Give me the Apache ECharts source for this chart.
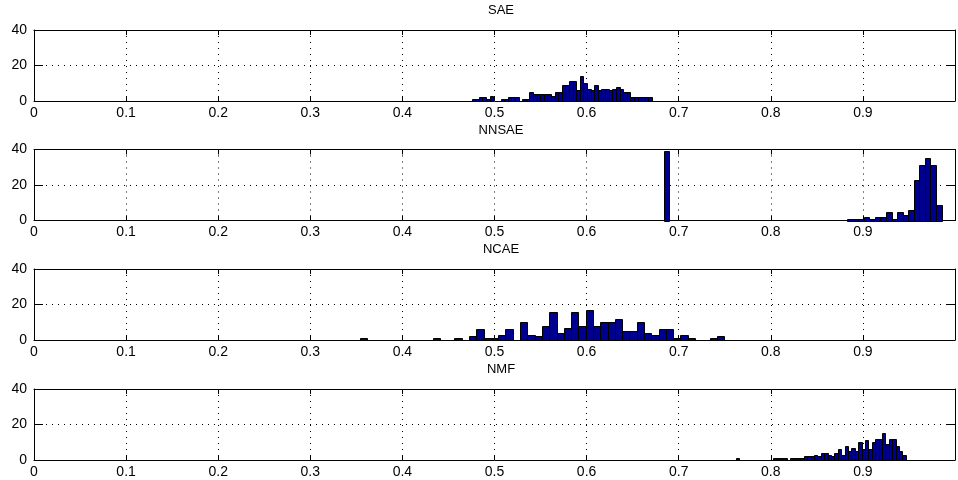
<!DOCTYPE html>
<html><head><meta charset="utf-8">
<script src="https://cdn.jsdelivr.net/npm/echarts@6/dist/echarts.min.js"></script>
<style>html,body{margin:0;padding:0;background:#fff}#c{width:958px;height:480px}</style>
</head><body><div id="c"></div>
<script>
const titles = ['SAE', 'NNSAE', 'NCAE', 'NMF'];
const xTickInterval = 0.1;
const yTicks = [0, 20, 40];
// histogram ranges [first bin left edge, last bin right edge] and counts (50 bins each)
const saeRange = [0.4752, 0.6710];
const saeCounts = [1,1,2,2,1,3,0,0,1,1, 2,2,2,0,1,1,5,4,4,4, 4,4,3,5,5,9,9,11,11,6, 14,10,7,6,9,6,7,7,6,7, 8,7,5,5,2,2,2,2,2,2];
const nnsaeRange = [0.6836, 0.9854];
const nnsaeCounts = [39,0,0,0,0,0,0,0,0,0, 0,0,0,0,0,0,0,0,0,0, 0,0,0,0,0,0,0,0,0,0, 0,0,0,1,1,1,2,1,2,2, 5,1,5,3,6,23,31,35,31,9];
const ncaeRange = [0.3536, 0.7494];
const ncaeCounts = [1,0,0,0,0,0,0,0,0,0, 1,0,0,1,0,2,6,1,1,3, 6,0,10,3,2,8,16,4,7,16, 8,17,8,10,10,12,5,5,10,4, 3,6,6,1,3,1,0,0,1,2];
const nmfRange = [0.7619, 0.9465];
const nmfCounts = [1,0,0,0,0,0,0,0,0,0, 0,1,1,1,1,0,1,1,1,1, 2,2,2,3,2,4,4,3,2,4, 6,3,8,5,7,5,10,6,11,6, 10,12,12,15,9,12,12,8,5,3];

const panels = [
  {range: saeRange, counts: saeCounts},
  {range: nnsaeRange, counts: nnsaeCounts},
  {range: ncaeRange, counts: ncaeCounts},
  {range: nmfRange, counts: nmfCounts}
];
const tops = [30, 149.5, 269, 389];
const H = 71, L = 34, W = 926;
const FONT = '"Liberation Sans",Arial,sans-serif';

const grid = [], xAxis = [], yAxis = [], series = [], title = [];
const dotted = {show: true, lineStyle: {color: '#000', width: 1, type: [1, 5]}};
const axLine = {show: true, onZero: false, lineStyle: {color: '#000', width: 1}};

panels.forEach((p, i) => {
  grid.push({left: L, top: tops[i], width: W, height: H, containLabel: false});
  title.push({text: titles[i], left: 496, top: tops[i] - 31, textAlign: 'center',
    textStyle: {fontFamily: FONT, fontSize: 13, fontWeight: 'normal', color: '#000'}});
  // bottom x
  xAxis.push({type: 'value', gridIndex: i, min: 0, max: 1, interval: xTickInterval, position: 'bottom',
    axisLine: axLine, axisTick: {show: true, inside: true, length: 5, lineStyle: {color: '#000'}},
    axisLabel: {show: true, margin: 5, color: '#000', fontFamily: FONT, fontSize: 14,
      formatter: v => (v >= 0.999 ? '' : String(Math.round(v * 10) / 10))},
    splitLine: dotted});
  // top x (box)
  xAxis.push({type: 'value', gridIndex: i, min: 0, max: 1, interval: xTickInterval, position: 'top',
    axisLine: axLine, axisTick: {show: true, inside: true, length: 5, lineStyle: {color: '#000'}},
    axisLabel: {show: false}, splitLine: {show: false}});
  // left y
  yAxis.push({type: 'value', gridIndex: i, min: yTicks[0], max: yTicks[yTicks.length - 1], interval: 20, position: 'left',
    axisLine: axLine, axisTick: {show: true, inside: true, length: 9, lineStyle: {color: '#000'}},
    axisLabel: {show: true, margin: 7, color: '#000', fontFamily: FONT, fontSize: 14},
    splitLine: dotted});
  // right y
  yAxis.push({type: 'value', gridIndex: i, min: yTicks[0], max: yTicks[yTicks.length - 1], interval: 20, position: 'right',
    axisLine: axLine, axisTick: {show: true, inside: true, length: 9, lineStyle: {color: '#000'}},
    axisLabel: {show: false}, splitLine: {show: false}});

  const n = p.counts.length;
  const w = (p.range[1] - p.range[0]) / n;
  const data = p.counts.map((c, k) => [p.range[0] + k * w, p.range[0] + (k + 1) * w, c]);
  series.push({
    type: 'custom', xAxisIndex: 2 * i, yAxisIndex: 2 * i, data: data, z: 3,
    renderItem: function (params, api) {
      const c = api.value(2);
      if (!c) return null;
      const a = api.coord([api.value(0), c]);
      const b = api.coord([api.value(1), 0]);
      return {type: 'rect',
        shape: {x: Math.round(a[0]) + 0.5, y: Math.round(a[1]) + 0.5, width: Math.round(b[0]) - Math.round(a[0]), height: Math.round(b[1]) - Math.round(a[1])},
        style: {fill: '#00008F', stroke: '#000', lineWidth: 1}};
    }
  });
});

const chart = echarts.init(document.getElementById('c'), null, {renderer: 'canvas'});
chart.setOption({animation: false, backgroundColor: '#fff', title, grid, xAxis, yAxis, series});
</script></body></html>
